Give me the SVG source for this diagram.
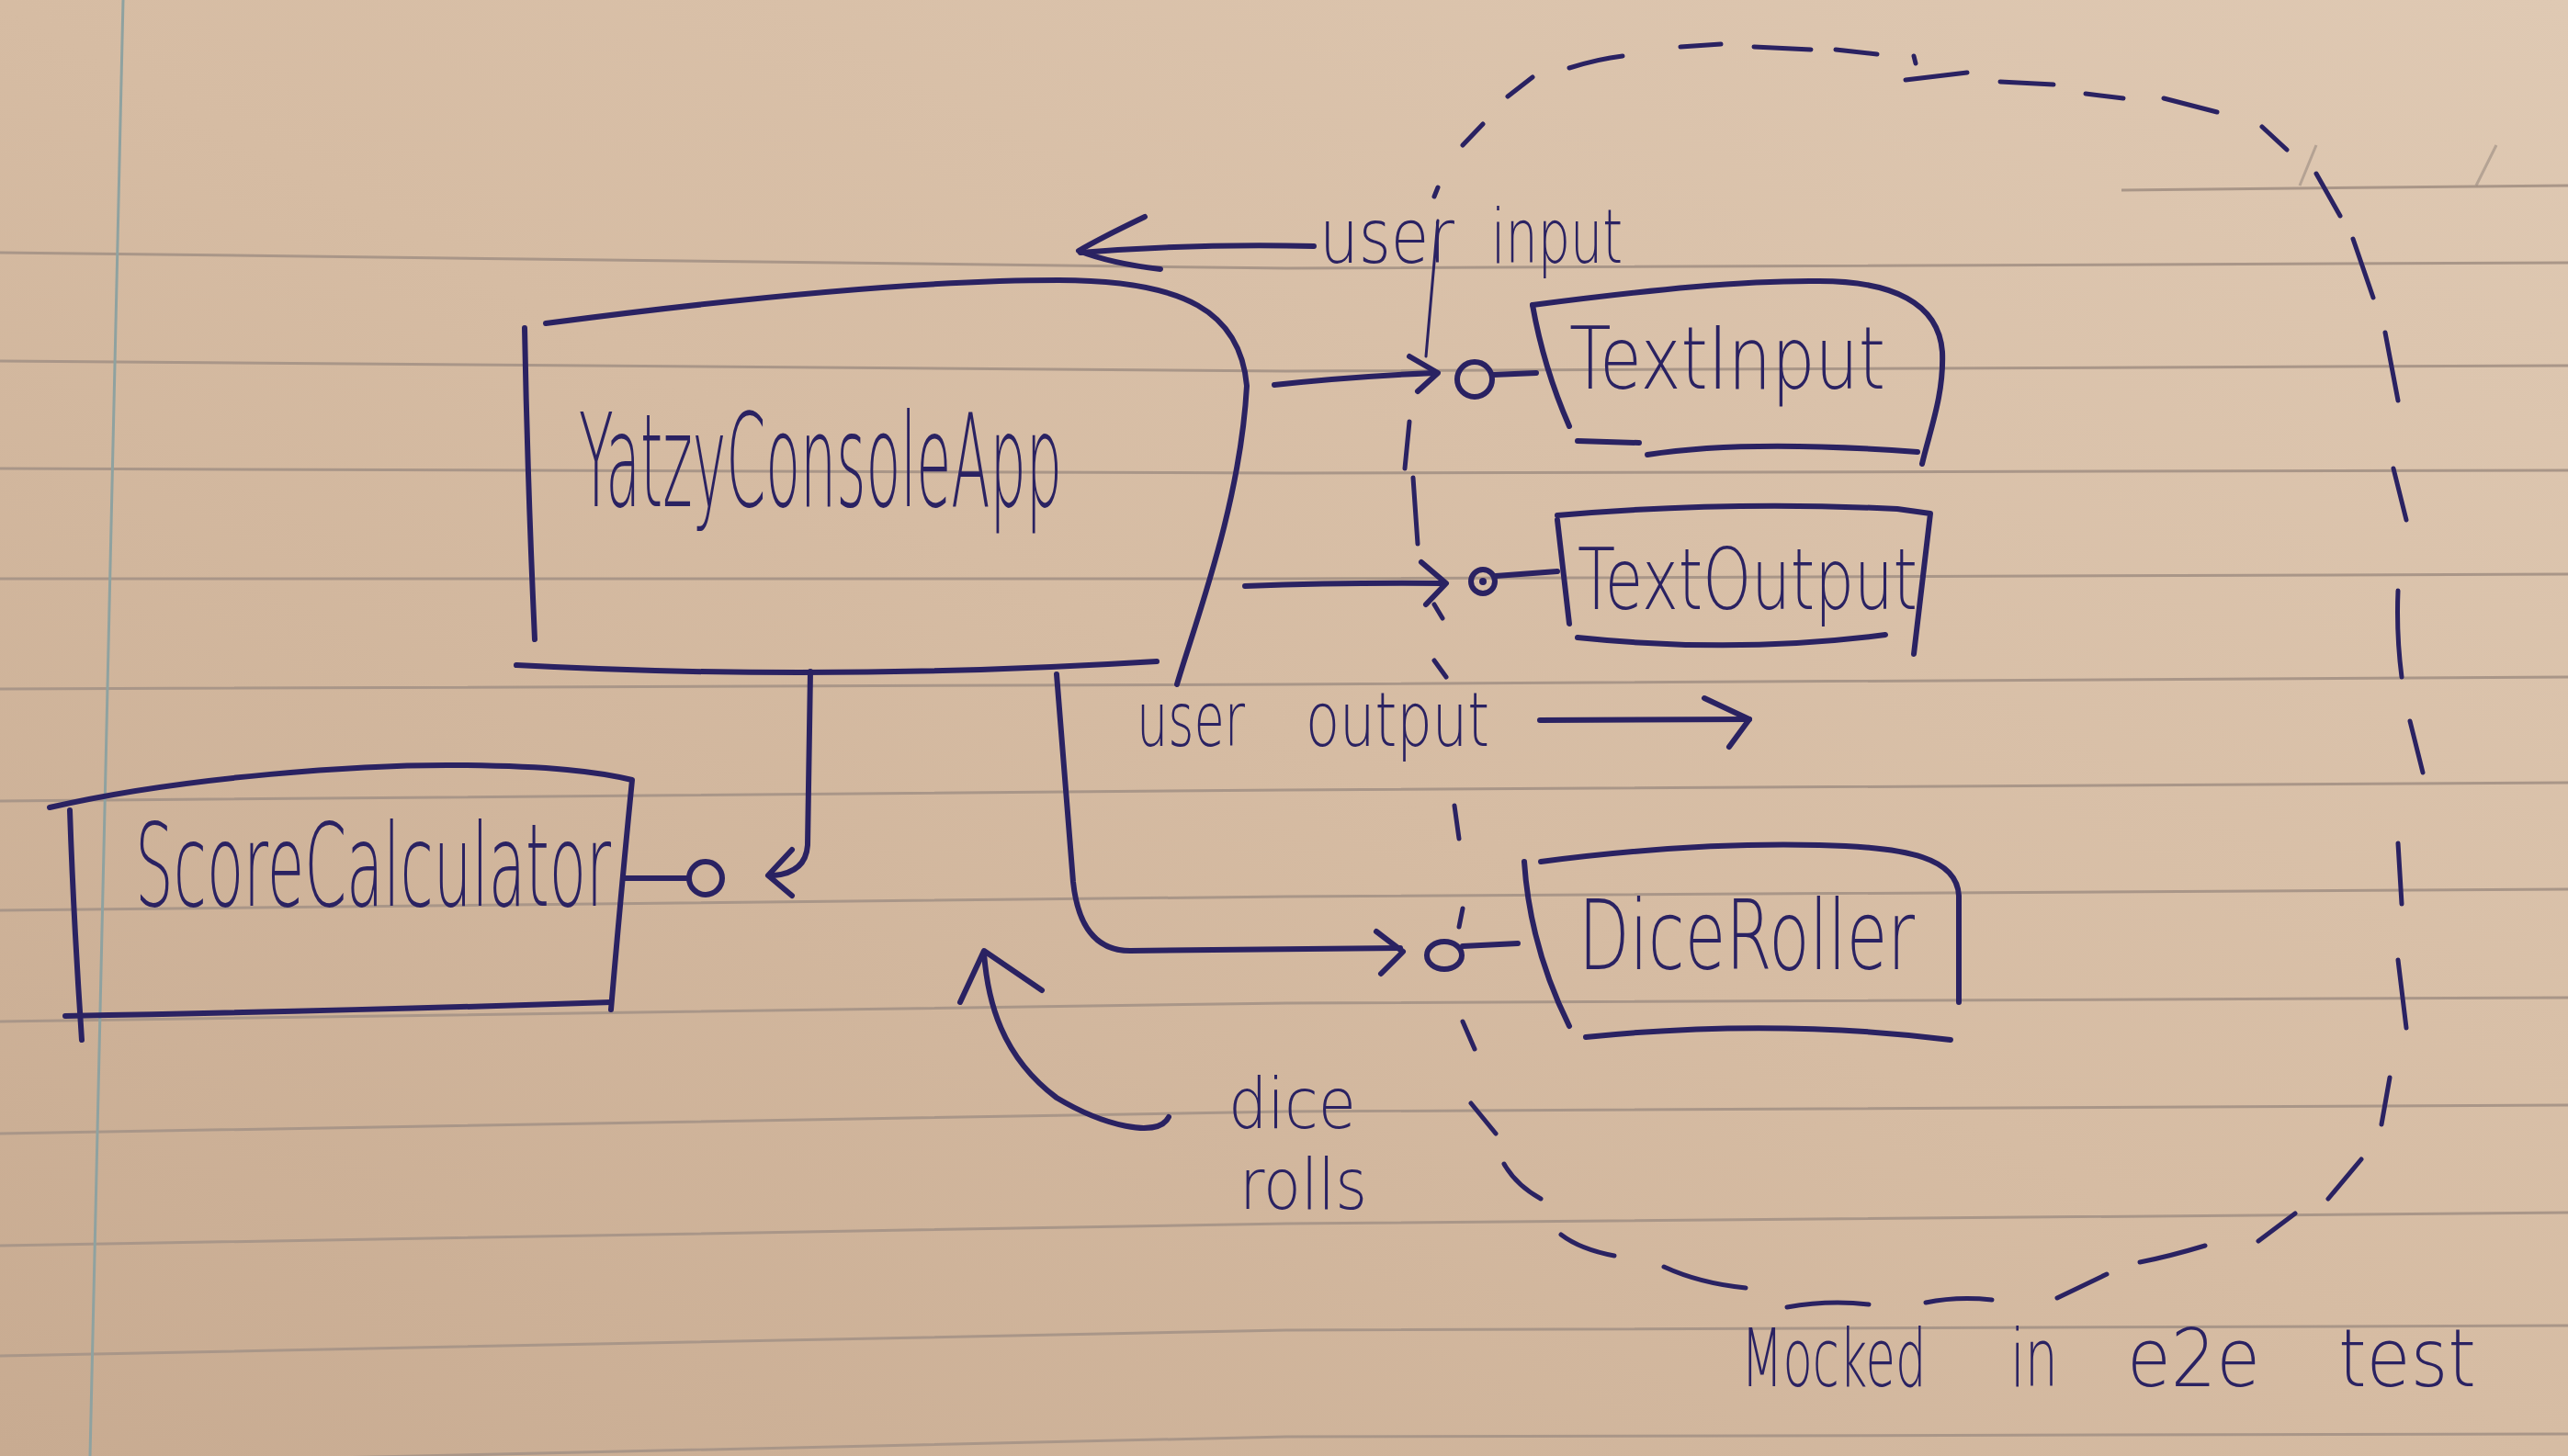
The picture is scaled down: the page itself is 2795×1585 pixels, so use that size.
<svg xmlns="http://www.w3.org/2000/svg" width="2795" height="1585" viewBox="0 0 2795 1585">
<defs>
<linearGradient id="paper" x1="1" y1="0" x2="0" y2="1">
<stop offset="0" stop-color="#dfc9b3"/>
<stop offset="0.5" stop-color="#d6bca3"/>
<stop offset="1" stop-color="#c8ab91"/>
</linearGradient>
<style>
.rule{fill:none;stroke:#a99688;stroke-width:3}
.margin{fill:none;stroke:#8fa2a0;stroke-width:3}
.ink{fill:none;stroke:#2a2262;stroke-width:6;stroke-linecap:round;stroke-linejoin:round}
.inkthin{fill:none;stroke:#2a2262;stroke-width:3;stroke-linecap:round}
.dash{fill:none;stroke:#2a2262;stroke-width:5;stroke-linecap:round}
.hand{font-family:"DejaVu Sans","Liberation Sans",sans-serif;font-weight:200;fill:#2a2262}
.faint{fill:none;stroke:#9a8a80;stroke-width:3;opacity:0.6}
</style>
</defs>
<rect x="0" y="0" width="2795" height="1585" fill="url(#paper)"/>
<g id="paper-lines">
<polyline class="rule" points="0,275 1400,292 2795,286"/>
<polyline class="rule" points="0,393 1400,404 2795,398"/>
<polyline class="rule" points="0,510 1400,515 2795,512"/>
<polyline class="rule" points="0,630 1400,630 2795,625"/>
<polyline class="rule" points="0,750 1400,745 2795,737"/>
<polyline class="rule" points="0,872 1400,860 2795,852"/>
<polyline class="rule" points="0,991 1400,976 2795,968"/>
<polyline class="rule" points="0,1112 1400,1092 2795,1086"/>
<polyline class="rule" points="0,1234 1400,1210 2795,1203"/>
<polyline class="rule" points="0,1356 1400,1332 2795,1320"/>
<polyline class="rule" points="0,1476 1400,1448 2795,1443"/>
<polyline class="rule" points="0,1595 1400,1564 2795,1561"/>
<polyline class="rule" points="2309,207 2795,202"/>
<path class="faint" d="M2503,202 L2521,158 M2695,202 L2717,158"/>
<path class="margin" d="M134,0 L98,1585"/>
</g>
<g id="mocked-boundary">
<path class="dash" d="M1592,158 L1614,135 M1641,105 L1668,84 M1708,74 Q1740,64 1766,61 M1829,51 L1873,48 M1909,51 L1971,54 M1998,54 L2043,59 M2083,61 L2085,69 M2074,87 L2141,79 M2177,89 L2235,92 M2270,102 L2311,107 M2355,107 L2413,122 M2462,138 L2489,163 M2521,189 L2547,235 M2561,260 L2583,324 M2596,362 L2610,436 M2605,510 L2619,566 M2610,643 Q2608,690 2614,737 M2623,785 L2637,841 M2610,918 L2614,984 M2610,1045 L2619,1119 M2601,1173 L2592,1224 M2570,1262 L2534,1305 M2498,1321 L2458,1351 M2400,1356 Q2360,1368 2329,1374 M2293,1387 L2239,1413 M2168,1415 Q2130,1411 2096,1418 M2034,1420 Q1990,1415 1945,1423 M1900,1402 Q1850,1397 1811,1379 M1757,1367 Q1720,1360 1699,1344 M1677,1305 Q1650,1290 1637,1267 M1628,1234 L1601,1201 M1605,1142 L1592,1112 M1588,1009 L1592,989 M1583,877 L1588,913 M1561,719 L1574,737 M1561,658 L1570,673 M1538,520 L1543,592 M1534,459 L1529,510 M1561,214 L1565,204"/>
<path class="inkthin" d="M1565,240 Q1558,320 1552,388"/>
</g>
<g id="node-yatzyconsoleapp">
<path class="ink" d="M594,352 C800,325 1000,305 1152,305 C1290,305 1350,340 1357,420 C1350,550 1300,680 1281,745"/>
<path class="ink" d="M571,357 Q574,520 582,696"/>
<path class="ink" d="M562,724 Q900,742 1259,720"/>
<text class="hand" x="630" y="551" font-size="140" textLength="526" lengthAdjust="spacingAndGlyphs">YatzyConsoleApp</text>
</g>
<g id="node-scorecalculator">
<path class="ink" d="M54,879 C200,845 400,832 500,833 C600,834 650,840 688,849 Q676,970 665,1099"/>
<path class="ink" d="M76,882 Q80,1000 89,1132"/>
<path class="ink" d="M71,1106 Q400,1100 665,1091"/>
<text class="hand" x="147" y="986" font-size="125" textLength="518" lengthAdjust="spacingAndGlyphs">ScoreCalculator</text>
</g>
<g id="node-textinput">
<path class="ink" d="M1668,332 Q1680,400 1708,464"/>
<path class="ink" d="M1668,332 C1800,315 1900,305 1980,306 C2060,306 2110,330 2114,383 C2116,430 2100,470 2092,505"/>
<path class="ink" d="M1717,480 L1784,482 M1793,495 Q1900,478 2087,492"/>
<text class="hand" x="1708" y="423" font-size="95" textLength="344" lengthAdjust="spacingAndGlyphs">TextInput</text>
</g>
<g id="node-textoutput">
<path class="ink" d="M1695,561 Q1880,545 2065,554 L2101,559 L2083,712"/>
<path class="ink" d="M1695,566 L1708,679"/>
<path class="ink" d="M1717,694 Q1890,712 2052,691"/>
<text class="hand" x="1717" y="663" font-size="92" textLength="370" lengthAdjust="spacingAndGlyphs">TextOutput</text>
</g>
<g id="node-diceroller">
<path class="ink" d="M1659,938 Q1665,1030 1708,1117"/>
<path class="ink" d="M1677,938 C1800,922 1900,918 1980,920 C2080,922 2130,935 2132,975 L2132,1091"/>
<path class="ink" d="M1726,1129 Q1930,1108 2123,1132"/>
<text class="hand" x="1718" y="1055" font-size="105" textLength="366" lengthAdjust="spacingAndGlyphs">DiceRoller</text>
</g>
<g id="connectors">
<path class="ink" d="M882,731 L879,920 Q877,950 842,953"/>
<path class="ink" d="M862,925 L836,953 L862,975"/>
<circle class="ink" cx="768" cy="956" r="18"/>
<path class="ink" d="M679,956 L750,956"/>
<path class="ink" d="M1150,734 L1168,960 Q1176,1035 1230,1035 L1524,1032"/>
<path class="ink" d="M1498,1014 L1527,1036 L1503,1060"/>
<ellipse class="ink" cx="1572" cy="1040" rx="19" ry="15"/>
<path class="ink" d="M1592,1030 L1652,1027"/>
<path class="ink" d="M1387,419 Q1470,410 1561,406"/>
<path class="ink" d="M1534,388 L1565,406 L1543,426"/>
<circle class="ink" cx="1605" cy="413" r="19"/>
<path class="ink" d="M1625,408 L1672,406"/>
<path class="ink" d="M1355,638 Q1460,634 1570,635"/>
<path class="ink" d="M1547,612 L1574,635 L1552,658"/>
<circle class="ink" cx="1614" cy="633" r="13"/>
<circle cx="1614" cy="633" r="4" fill="#2a2262"/>
<path class="ink" d="M1628,627 L1695,622"/>
<path class="ink" d="M1430,268 Q1300,265 1176,275"/>
<path class="ink" d="M1246,236 Q1200,258 1174,273 Q1210,287 1263,293"/>
<path class="ink" d="M1676,784 L1904,783"/>
<path class="ink" d="M1855,760 L1904,783 L1882,813"/>
<path class="ink" d="M1272,1216 C1260,1240 1200,1225 1150,1195 C1090,1150 1075,1090 1071,1038"/>
<path class="ink" d="M1045,1091 L1071,1035 L1134,1078"/>
</g>
<g id="labels">
<text class="hand" x="1436" y="286" font-size="82" textLength="147" lengthAdjust="spacingAndGlyphs">user</text>
<text class="hand" x="1623" y="286" font-size="82" textLength="143" lengthAdjust="spacingAndGlyphs">input</text>
<text class="hand" x="1237" y="812" font-size="82" textLength="118" lengthAdjust="spacingAndGlyphs">user</text>
<text class="hand" x="1421" y="812" font-size="82" textLength="200" lengthAdjust="spacingAndGlyphs">output</text>
<text class="hand" x="1337" y="1228" font-size="76" textLength="139" lengthAdjust="spacingAndGlyphs">dice</text>
<text class="hand" x="1349" y="1316" font-size="76" textLength="139" lengthAdjust="spacingAndGlyphs">rolls</text>
<text class="hand" transform="translate(1895,1509) scale(0.6,1)" x="0" y="0" font-size="88">Mocked</text>
<text class="hand" x="2188" y="1509" font-size="88" textLength="52" lengthAdjust="spacingAndGlyphs">in</text>
<text class="hand" x="2315" y="1509" font-size="88" textLength="145" lengthAdjust="spacingAndGlyphs">e2e</text>
<text class="hand" x="2545" y="1509" font-size="88" textLength="150" lengthAdjust="spacingAndGlyphs">test</text>
</g>
</svg>
